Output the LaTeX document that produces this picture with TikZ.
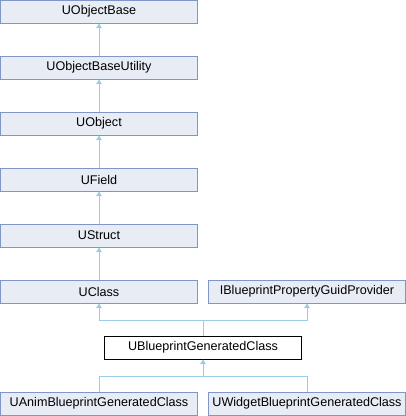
\documentclass[tikz,border=0pt]{standalone}
\usepackage{fontspec}
\setmainfont{Liberation Sans}
\usetikzlibrary{arrows.meta,positioning}
\definecolor{dxfill}{RGB}{232,236,245}
\definecolor{dxedge}{RGB}{128,150,200}
\definecolor{dxline}{RGB}{154,205,232}
\tikzset{
  cls/.style={draw=dxedge, fill=dxfill, line width=1pt, minimum width=197pt,
              minimum height=23pt, inner sep=0pt, font=\fontsize{12.6}{14}\selectfont},
  cur/.style={cls, draw=black, fill=white},
  inh/.style={{Triangle[length=4.5pt,width=5.5pt]}-, dxline, line width=1pt},
  lnk/.style={dxline, line width=1pt},
}

\begin{document}
\begin{tikzpicture}[x=1pt, y=-1pt]
    \useasboundingbox (0,0) rectangle (406,416);
    \node[cls] (uobase) at (99,11.5) {UObjectBase};
    \node[cls] (uobutil) at (99,67.5) {UObjectBaseUtility};
    \node[cls] (uobj) at (99,123.5) {UObject};
    \node[cls] (ufield) at (99,179.5) {UField};
    \node[cls] (ustruct) at (99,235.5) {UStruct};
    \node[cls] (uclass) at (99,291.5) {UClass};
    \node[cls] (ibpgp) at (307,291.5) {IBlueprintPropertyGuidProvider};
    \node[cur] (ubgc) at (203,347.5) {UBlueprintGeneratedClass};
    \node[cls] (uanim) at (99,403.5) {UAnimBlueprintGeneratedClass};
    \node[cls] (uwidget) at (307,403.5) {UWidgetBlueprintGeneratedClass};
    \draw[inh] (uobase.south) -- (uobutil.north);
    \draw[inh] (uobutil.south) -- (uobj.north);
    \draw[inh] (uobj.south) -- (ufield.north);
    \draw[inh] (ufield.south) -- (ustruct.north);
    \draw[inh] (ustruct.south) -- (uclass.north);
    \coordinate (jup) at (203,320.5);
    \draw[lnk] (ubgc.north) -- (jup);
    \draw[inh] (uclass.south) |- (jup);
    \draw[inh] (ibpgp.south) |- (jup);
    \coordinate (jdn) at (203,376.5);
    \draw[lnk] (uanim.north) |- (jdn);
    \draw[lnk] (uwidget.north) |- (jdn);
    \draw[inh] (ubgc.south) -- (jdn);
\end{tikzpicture}
\end{document}
